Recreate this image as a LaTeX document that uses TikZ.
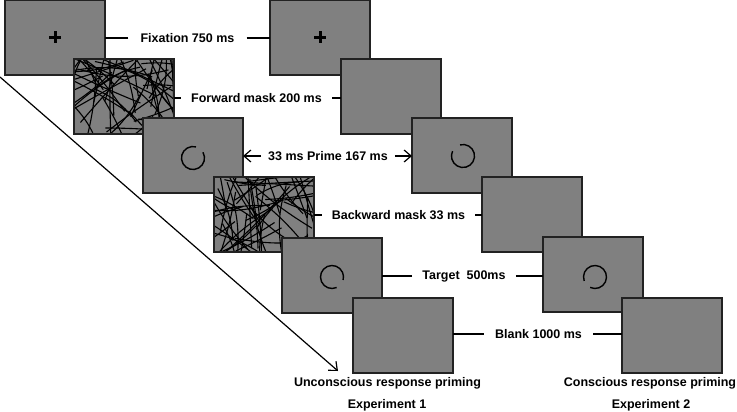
\documentclass[tikz,border=0pt]{standalone}
\usepackage{fontspec}
\setmainfont{Liberation Sans}
\usetikzlibrary{arrows.meta,calc}
\definecolor{scrgray}{HTML}{808080}
\definecolor{scrline}{HTML}{222222}
\tikzset{
  screen/.style={draw=scrline, fill=scrgray, line width=1.4pt, anchor=north west,
    minimum width=100pt, minimum height=75pt, inner sep=0pt, outer sep=0pt},
  lab/.style={font=\fontsize{12.5}{14}\selectfont\bfseries, inner xsep=10pt, inner ysep=0pt},
  conn/.style={draw=black, line width=1.2pt},
  barb/.style={draw=black, line width=1.2pt, -{Straight Barb[length=7pt,width=12pt]}},
  maskline/.style={draw=black, line width=1.1pt},
  ring/.style={draw=black, line width=1.4pt},
  crossbar/.style={draw=black, line width=3pt},
}
\newcommand{\maskfill}[2]{%
  \begin{scope}
    \clip (#1.south west) rectangle (#1.north east);
    \pgfmathsetseed{#2}
    \foreach \i in {1,...,55}{
      \pgfmathsetmacro{\cx}{rnd}
      \pgfmathsetmacro{\cy}{rnd}
      \pgfmathsetmacro{\ang}{360*rnd}
      \pgfmathsetmacro{\len}{40+55*rnd}
      \pgfmathsetmacro{\bnd}{-15+30*rnd}
      \coordinate (mc) at ($(#1.north west)!\cx!(#1.north east)$);
      \draw[maskline] ([shift={(\ang:\len/2)}] $(mc)+(0,75*\cy)$) to[bend left=\bnd] ([shift={(\ang+180:\len/2)}] $(mc)+(0,75*\cy)$);
    }
  \end{scope}
  \draw[draw=scrline, line width=1.4pt] (#1.south west) rectangle (#1.north east);
}
\begin{document}
\begin{tikzpicture}[x=1pt, y=-1pt]
\useasboundingbox (0,0) rectangle (737,412);

% diagonal arrow (behind screens)
\coordinate (dstart) at (0,77);
\coordinate (dend) at (338,371);
\draw[barb] (dstart) -- (dend);

% left column
\node[screen] (L1) at (5,0) {};
\draw[crossbar] ($(L1.center)+(-6,0)$) -- ($(L1.center)+(6,0)$);
\draw[crossbar] ($(L1.center)+(0,-6)$) -- ($(L1.center)+(0,6)$);
\node[screen] (L2) at (74,59) {};
\maskfill{L2}{42}
\node[screen] (L3) at (143,118) {};
\coordinate (c3) at (193,158);
\draw[ring] ([shift={(-30:11.5)}]c3) arc[start angle=-30, end angle=285, radius=11.5];
\node[screen] (L4) at (214,177) {};
\maskfill{L4}{777}
\node[screen] (L5) at (282,238) {};
\coordinate (c5) at (332,277);
\draw[ring] ([shift={(66:11.5)}]c5) arc[start angle=66, end angle=375, radius=11.5];
\node[screen] (L6) at (353,298) {};

% right column
\node[screen] (R1) at (270,0) {};
\draw[crossbar] ($(R1.center)+(-6,0)$) -- ($(R1.center)+(6,0)$);
\draw[crossbar] ($(R1.center)+(0,-6)$) -- ($(R1.center)+(0,6)$);
\node[screen] (R2) at (341,59) {};
\node[screen] (R3) at (412,118) {};
\coordinate (r3) at (463,156);
\draw[ring] ([shift={(-105:11.5)}]r3) arc[start angle=-105, end angle=205, radius=11.5];
\node[screen] (R4) at (482,177) {};
\node[screen] (R5) at (543,237) {};
\coordinate (r5) at (595,277);
\draw[ring] ([shift={(-200:11.5)}]r5) arc[start angle=-200, end angle=115, radius=11.5];
\node[screen] (R6) at (622,298) {};

% labels and connectors
\node[lab, inner xsep=12pt] (fix) at (187.5,38) {Fixation 750 ms};
\draw[conn] (fix.west) -- (fix.west -| L1.east);
\draw[conn] (fix.east) -- (fix.east -| R1.west);

\node[lab] (fwd) at (256.5,98) {Forward mask 200 ms};
\draw[conn] (fwd.west) -- (fwd.west -| L2.east);
\draw[conn] (fwd.east) -- (fwd.east -| R2.west);

\node[lab, inner xsep=7pt] (prime) at (328,156) {33 ms Prime 167 ms};
\draw[barb] (prime.west) -- (prime.west -| L3.east);
\draw[barb] (prime.east) -- (prime.east -| R3.west);

\node[lab] (bwd) at (398.5,215) {Backward mask 33 ms};
\draw[conn] (bwd.west) -- (bwd.west -| L4.east);
\draw[conn] (bwd.east) -- (bwd.east -| R4.west);

\node[lab] (tgt) at (464,276) {Target\ \ 500ms};
\draw[conn] (tgt.west) -- (tgt.west -| L5.east);
\draw[conn] (tgt.east) -- (tgt.east -| R5.west);

\node[lab, inner xsep=11pt] (blank) at (538.5,334) {Blank 1000 ms};
\draw[conn] (blank.west) -- (blank.west -| L6.east);
\draw[conn] (blank.east) -- (blank.east -| R6.west);

\node[lab] (unc) at (387.5,383) {Unconscious response priming};
\node[lab] (exp1) at (387,405) {Experiment 1};
\node[lab] (con) at (650,383) {Conscious response priming};
\node[lab] (exp2) at (651,405) {Experiment 2};
\end{tikzpicture}
\end{document}
